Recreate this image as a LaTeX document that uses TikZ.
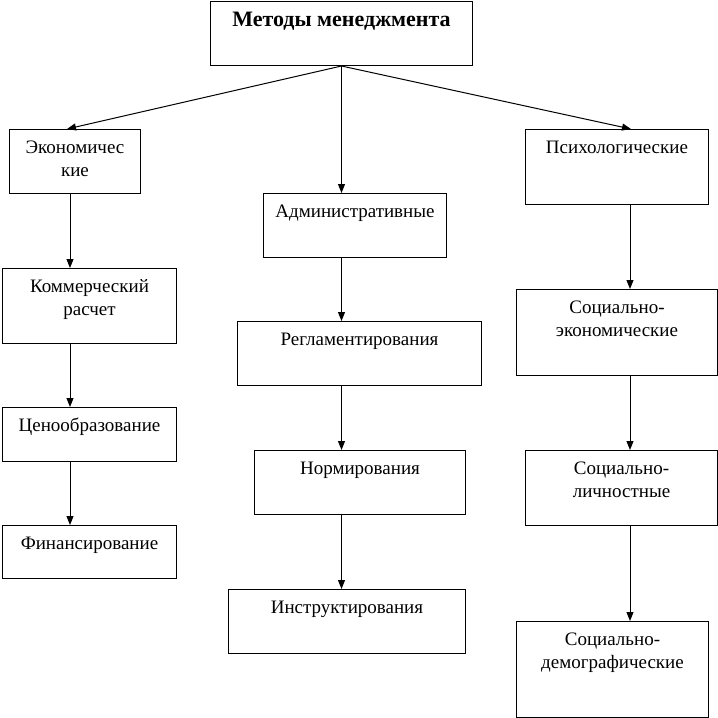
\documentclass[tikz,border=0pt]{standalone}
\usepackage{fontspec}
\setmainfont{Liberation Serif}
\usetikzlibrary{arrows.meta}

\begin{document}
\begin{tikzpicture}[x=1pt,y=-1pt,
    kuang/.style={draw,line width=1pt,anchor=north west,inner xsep=0pt,inner ysep=10pt,
        align=center,font=\fontsize{19}{23}\selectfont,text height=14pt},
    kuangdva/.style={kuang,text height=37pt},
    jiantou/.style={-{Triangle[length=9pt,width=7pt]},line width=1pt}]
            \useasboundingbox (0,0) rectangle (718,718);
            %三列箭头所在的竖线
            \coordinate (lev) at (70,0);
            \coordinate (prav) at (630,0);
            %顶部方框
            \node[kuang,minimum width=262pt,text height=15pt,text depth=29pt,font=\fontsize{22}{26}\selectfont\bfseries] (metody) at (210,1) {Методы менеджмента};
            %左列
            \node[kuangdva,minimum width=131pt,text depth=7pt] (econ) at (9,129) {Экономичес\\кие};
            \node[kuangdva,minimum width=174pt,text depth=18pt] (komm) at (2,268) {Коммерческий\\расчет};
            \node[kuang,minimum width=174pt,text depth=20pt] (ceno) at (2,407) {Ценообразование};
            \node[kuang,minimum width=174pt,text depth=19pt] (fin) at (2,525) {Финансирование};
            %中列
            \node[kuang,minimum width=183pt,text depth=30pt] (admin) at (263,193) {Административные};
            \node[kuang,minimum width=244pt,text depth=30pt] (reglam) at (237,321) {Регламентирования};
            \node[kuang,minimum width=211pt,text depth=30pt] (norm) at (254,450) {Нормирования};
            \node[kuang,minimum width=237pt,text depth=30pt] (instr) at (228,589) {Инструктирования};
            %右列
            \node[kuang,minimum width=183pt,text depth=41pt] (psih) at (525,129) {Психологические};
            \node[kuangdva,minimum width=201pt,text depth=29pt] (sekon) at (516,289) {Социально-\\экономические};
            \node[kuangdva,minimum width=192pt,text depth=18pt] (slich) at (525,450) {Социально-\\личностные};
            \node[kuangdva,minimum width=192pt,text depth=39pt] (sdem) at (516,621) {Социально-\\демографические};
            %从顶部方框出发的箭头
            \draw[jiantou] (metody.south) -- ([xshift=-8pt]econ.north);
            \draw[jiantou] (metody.south) -- (metody.south |- admin.north);
            \draw[jiantou] (metody.south) -- ([xshift=14pt]psih.north);
            %左列箭头
            \draw[jiantou] (econ.south -| lev) -- (komm.north -| lev);
            \draw[jiantou] (komm.south -| lev) -- (ceno.north -| lev);
            \draw[jiantou] (ceno.south -| lev) -- (fin.north -| lev);
            %中列箭头
            \draw[jiantou] (metody.south |- admin.south) -- (metody.south |- reglam.north);
            \draw[jiantou] (metody.south |- reglam.south) -- (metody.south |- norm.north);
            \draw[jiantou] (metody.south |- norm.south) -- (metody.south |- instr.north);
            %右列箭头
            \draw[jiantou] (psih.south -| prav) -- (sekon.north -| prav);
            \draw[jiantou] (sekon.south -| prav) -- (slich.north -| prav);
            \draw[jiantou] (slich.south -| prav) -- (sdem.north -| prav);
\end{tikzpicture}
\end{document}
